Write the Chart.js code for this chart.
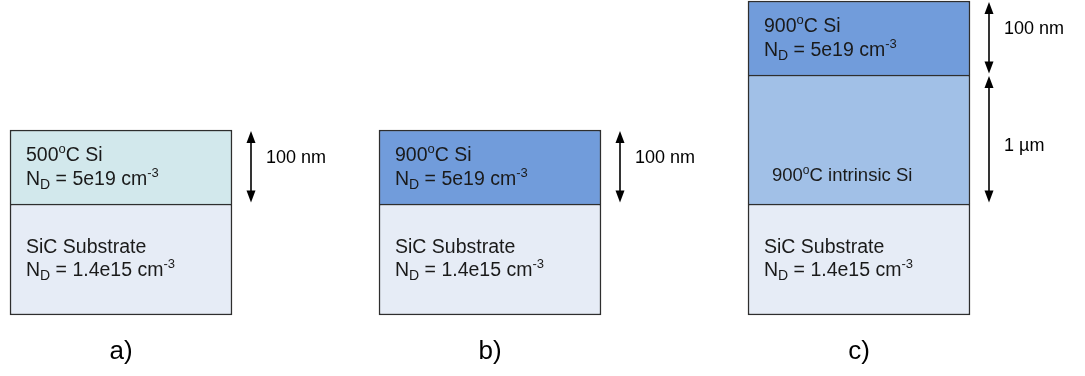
<!DOCTYPE html>
<html>
<head>
<meta charset="utf-8">
<script src="https://cdn.jsdelivr.net/npm/chart.js@4.4.1/dist/chart.umd.min.js"></script>
<style>
  html, body { margin: 0; padding: 0; background: #ffffff; }
  #wrap { width: 1085px; height: 376px; position: relative; }
</style>
</head>
<body>
<div id="wrap"><canvas id="c"></canvas></div>
<script>
// ---- data (schematic layer heights, not to scale) ----
const panels = ['a)', 'b)', 'c)'];
const substrateHeight = [111, 111, 111];
const intrinsicHeight = [null, null, 129];
const dopedHeight = [74, 74, 74];
const dopedLabel = ['500^{o}C Si', '900^{o}C Si', '900^{o}C Si'];
const dopedDoping = ['N_{D} = 5e19 cm^{-3}', 'N_{D} = 5e19 cm^{-3}', 'N_{D} = 5e19 cm^{-3}'];
const intrinsicLabel = [null, null, '900^{o}C intrinsic Si'];
const substrateLabel = ['SiC Substrate', 'SiC Substrate', 'SiC Substrate'];
const substrateDoping = ['N_{D} = 1.4e15 cm^{-3}', 'N_{D} = 1.4e15 cm^{-3}', 'N_{D} = 1.4e15 cm^{-3}'];
const dopedThickness = ['100 nm', '100 nm', '100 nm'];
const intrinsicThickness = [null, null, '1 \u00b5m'];

const FONT = '"Liberation Sans", Arial, sans-serif';

function drawRich(ctx, str, x, y, size) {
  const parts = [];
  const re = /(\^|_)\{([^}]*)\}/g;
  let last = 0, m;
  while ((m = re.exec(str)) !== null) {
    if (m.index > last) parts.push({ t: str.slice(last, m.index), k: 'n' });
    parts.push({ t: m[2], k: m[1] === '^' ? 'sup' : 'sub' });
    last = re.lastIndex;
  }
  if (last < str.length) parts.push({ t: str.slice(last), k: 'n' });
  ctx.textBaseline = 'alphabetic';
  ctx.textAlign = 'left';
  let cx = x;
  for (const p of parts) {
    let dy = 0, s = size;
    if (p.k === 'sub') { s = Math.round(size * 0.74); dy = size * 0.2; }
    else if (p.k === 'sup') { s = Math.round(size * 0.66); dy = -size * 0.4; }
    ctx.font = s + 'px ' + FONT;
    ctx.fillText(p.t, cx, y + dy);
    cx += ctx.measureText(p.t).width;
  }
}

function arrow(ctx, x, y1, y2) {
  const hl = 12, hw = 4.5;
  ctx.strokeStyle = '#000'; ctx.fillStyle = '#000'; ctx.lineWidth = 1.6;
  ctx.beginPath(); ctx.moveTo(x, y1 + hl - 2); ctx.lineTo(x, y2 - hl + 2); ctx.stroke();
  ctx.beginPath(); ctx.moveTo(x, y1); ctx.lineTo(x - hw, y1 + hl); ctx.lineTo(x + hw, y1 + hl); ctx.closePath(); ctx.fill();
  ctx.beginPath(); ctx.moveTo(x, y2); ctx.lineTo(x - hw, y2 - hl); ctx.lineTo(x + hw, y2 - hl); ctx.closePath(); ctx.fill();
}

const annotations = {
  id: 'annotations',
  afterDatasetsDraw(chart) {
    const ctx = chart.ctx;
    const subMeta = chart.getDatasetMeta(0).data;
    const intMeta = chart.getDatasetMeta(1).data;
    const dopMeta = chart.getDatasetMeta(2).data;
    ctx.save();
    panels.forEach((p, i) => {
      const sub = subMeta[i], dop = dopMeta[i], intr = intMeta[i];
      const left = sub.x - sub.width / 2;
      const right = sub.x + sub.width / 2;
      const subTop = sub.y;
      const dopTop = dop.y, dopBot = dop.base;
      ctx.fillStyle = '#1a1a1a';
      drawRich(ctx, substrateLabel[i], left + 16, subTop + 49, 19.5);
      drawRich(ctx, substrateDoping[i], left + 16, subTop + 72, 19.5);
      drawRich(ctx, dopedLabel[i], left + 16, dopTop + 31, 19.5);
      drawRich(ctx, dopedDoping[i], left + 16, dopTop + 55, 19.5);
      if (intrinsicLabel[i] && intr && intrinsicHeight[i] != null) {
        drawRich(ctx, intrinsicLabel[i], left + 24, intr.base - 23, 18.5);
      }
      const ax = right + 19;
      arrow(ctx, ax, dopTop + 1, dopBot - 1.5);
      ctx.fillStyle = '#000';
      ctx.font = '18px ' + FONT;
      ctx.textBaseline = 'middle'; ctx.textAlign = 'left';
      ctx.fillText(dopedThickness[i], ax + 15, dopTop + 28);
      if (intrinsicThickness[i] && intrinsicHeight[i] != null) {
        arrow(ctx, ax, intr.y + 1, intr.base - 1.5);
        ctx.font = '18px ' + FONT;
        ctx.textBaseline = 'middle'; ctx.textAlign = 'left';
        ctx.fillText(intrinsicThickness[i], ax + 15, (intr.y + intr.base) / 2 + 7);
      }
      ctx.fillStyle = '#000';
      ctx.font = '26px ' + FONT;
      ctx.textAlign = 'center'; ctx.textBaseline = 'middle';
      ctx.fillText(p, sub.x, 352);
    });
    ctx.restore();
  }
};

const border = '#2e2e2e';
new Chart(document.getElementById('c'), {
  type: 'bar',
  data: {
    labels: panels,
    datasets: [
      { label: 'SiC Substrate', data: substrateHeight, backgroundColor: '#e6ecf6',
        borderColor: border, borderWidth: 1.5, borderSkipped: false },
      { label: 'Intrinsic Si', data: intrinsicHeight, backgroundColor: '#a1c0e7',
        borderColor: border, borderWidth: { top: 1.5, left: 1.5, right: 1.5, bottom: 0 }, borderSkipped: false },
      { label: 'Doped Si', data: dopedHeight, backgroundColor: ['#d2e8ec', '#719cdb', '#719cdb'],
        borderColor: border, borderWidth: { top: 1.5, left: 1.5, right: 1.5, bottom: 0 }, borderSkipped: false }
    ]
  },
  options: {
    responsive: true,
    maintainAspectRatio: false,
    animation: false,
    events: [],
    layout: { padding: { left: 121, right: 226, top: 1, bottom: 61 } },
    datasets: { bar: { barThickness: 222, clip: false } },
    plugins: { legend: { display: false }, tooltip: { enabled: false } },
    scales: {
      x: { type: 'category', offset: false, stacked: true, display: false },
      y: { stacked: true, min: 0, max: 314, display: false }
    }
  },
  plugins: [annotations]
});
</script>
</body>
</html>
